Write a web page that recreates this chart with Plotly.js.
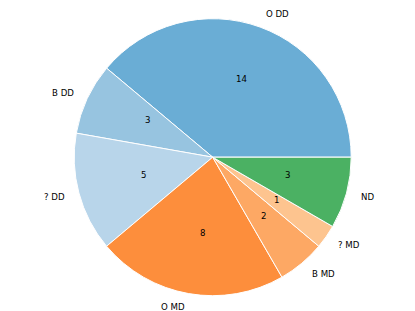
<!DOCTYPE html>
<html><head><meta charset="utf-8">
<script src="https://cdn.plot.ly/plotly-3.0.1.min.js"></script>
<style>html,body{margin:0;padding:0;background:#fff}#chart{width:415px;height:311px}</style>
</head><body><div id="chart"></div>
<script>
const labels = ['O DD', 'B DD', '? DD', 'O MD', 'B MD', '? MD', 'ND'];
const values = [14, 3, 5, 8, 2, 1, 3];
const colors = ['#6aadd5', '#97c4e0', '#b8d5ea', '#fd8e3c', '#fda864', '#fdc48f', '#4bb163'];

const W = 415, H = 311;
const cx = 212.7, cy = 157.2, R = 138.5;
const dom = {
  x: [(cx - R) / W, (cx + R) / W],
  y: [(H - cy - R) / H, (H - cy + R) / H]
};

// text placement constants
const labelDist = 1.1;
const valDistX = 0.54, valDistY = 0.58, valDx = 3, valDy = -3;

const total = values.reduce((a, b) => a + b, 0);
const annotations = [];
let cum = 0;
const fnt = {family: 'DejaVu Sans', size: 8.6, color: '#000'};
values.forEach((v, i) => {
  const mid = (cum + v / 2) / total * 2 * Math.PI;
  cum += v;
  const c = Math.cos(mid), s = Math.sin(mid);
  annotations.push({
    xref: 'paper', yref: 'paper',
    x: (cx + labelDist * R * c) / W, y: (H - cy + labelDist * R * s) / H,
    text: labels[i], showarrow: false, borderpad: 0,
    xanchor: c >= 0 ? 'left' : 'right', yanchor: 'middle', font: fnt
  });
  annotations.push({
    xref: 'paper', yref: 'paper',
    x: (cx + valDx + valDistX * R * c) / W, y: (H - cy - valDy + valDistY * R * s) / H,
    text: String(v), showarrow: false, borderpad: 0,
    xanchor: 'center', yanchor: 'middle', font: fnt
  });
});

// Plotly (counterclockwise) lays the first slice clockwise from `rotation`;
// make the first slice span 0°..its angle counterclockwise from 3 o'clock.
const rot = 90 - values[0] / total * 360;

Plotly.newPlot('chart', [{
  type: 'pie', labels: labels, values: values, sort: false,
  direction: 'counterclockwise', rotation: rot,
  marker: {colors: colors, line: {color: '#fff', width: 1}},
  textinfo: 'none', hoverinfo: 'label+value', domain: dom
}], {
  width: W, height: H, margin: {l: 0, r: 0, t: 0, b: 0},
  showlegend: false, paper_bgcolor: '#fff', annotations: annotations
}, {displayModeBar: false, staticPlot: true});
</script></body></html>
